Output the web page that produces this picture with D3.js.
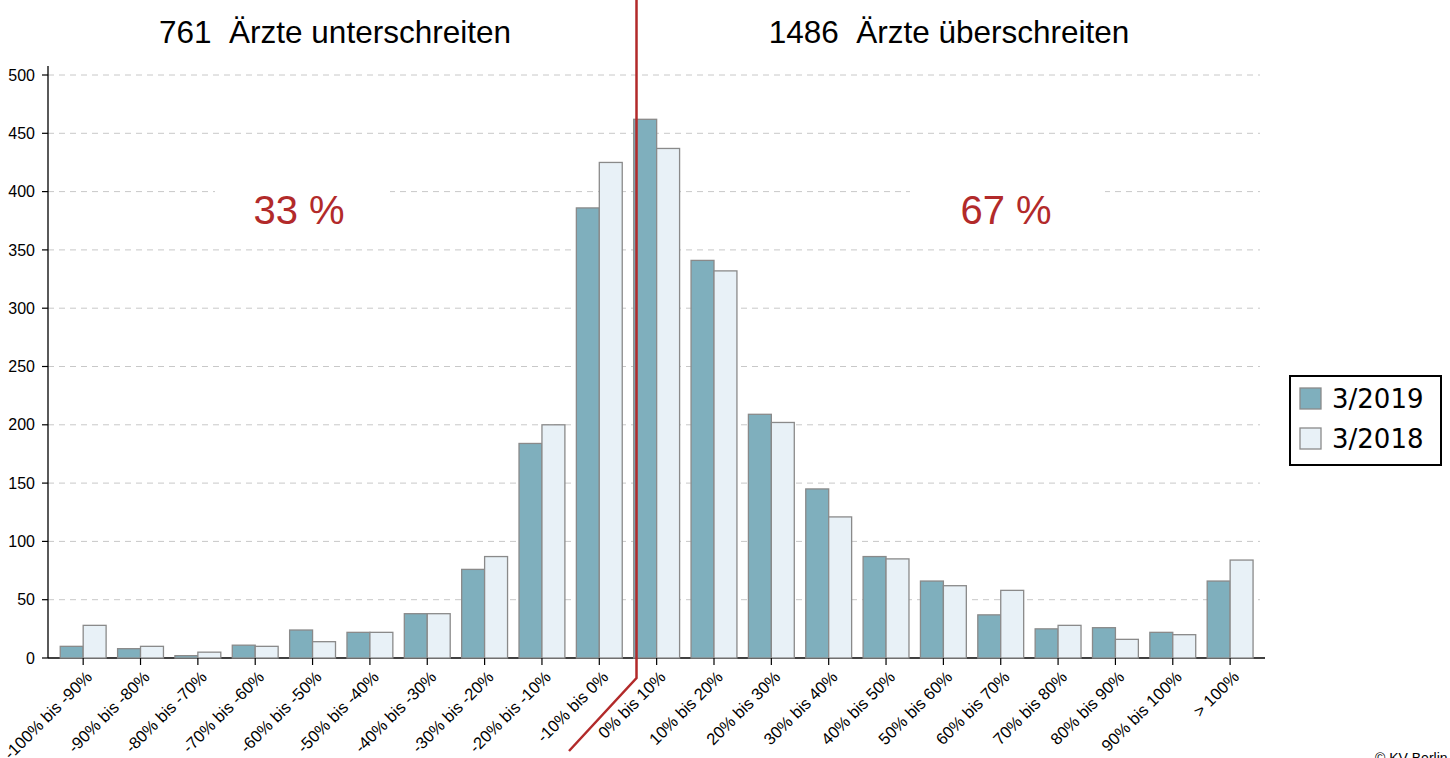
<!DOCTYPE html>
<html>
<head>
<meta charset="utf-8">
<script src="https://cdn.jsdelivr.net/npm/d3@7"></script>
<style>
  body { margin: 0; background: #fff; }
  svg { display: block; font-family: "Liberation Sans", Arial, sans-serif; }
</style>
</head>
<body>
<div id="chart"></div>
<script>
const categories = ['-100% bis -90%', '-90% bis -80%', '-80% bis -70%', '-70% bis -60%', '-60% bis -50%',
  '-50% bis -40%', '-40% bis -30%', '-30% bis -20%', '-20% bis -10%', '-10% bis 0%', '0% bis 10%',
  '10% bis 20%', '20% bis 30%', '30% bis 40%', '40% bis 50%', '50% bis 60%', '60% bis 70%',
  '70% bis 80%', '80% bis 90%', '90% bis 100%', '> 100%'];
const series = ['3/2019', '3/2018'];
const values2019 = [10, 8, 2, 11, 24, 22, 38, 76, 184, 386, 462, 341, 209, 145, 87, 66, 37, 25, 26, 22, 66];
const values2018 = [28, 10, 5, 10, 14, 22, 38, 87, 200, 425, 437, 332, 202, 121, 85, 62, 58, 28, 16, 20, 84];
const yTicks = [0, 50, 100, 150, 200, 250, 300, 350, 400, 450, 500];
const headLeft = '761  Ärzte unterschreiten';
const headRight = '1486  Ärzte überschreiten';
const shareLeft = '33 %';
const shareRight = '67 %';

const width = 1450, height = 758;
const colors = {'3/2019': '#7fafbd', '3/2018': '#e8f1f7'};

const svg = d3.select('#chart').append('svg')
  .attr('width', width).attr('height', height);

const x = d3.scaleBand().domain(categories).range([54.5, 1258.8]).paddingInner(0.2).paddingOuter(0.1);
const xs = d3.scaleBand().domain(series).range([0, x.bandwidth()]);
const y = d3.scaleLinear().domain([0, 500]).range([658, 75]);

// gridlines
svg.append('g').selectAll('line').data(yTicks.filter(d => d > 0)).join('line')
  .attr('x1', 48).attr('x2', 1260)
  .attr('y1', d => y(d)).attr('y2', d => y(d))
  .attr('stroke', '#c8c8c8').attr('stroke-dasharray', '6,5');

// white boxes behind percentage labels
[[215, 390], [910, 1105]].forEach(([a, b]) => {
  svg.append('rect').attr('x', a).attr('y', 182).attr('width', b - a).attr('height', 55).attr('fill', '#fff');
});

// x axis
const xAxisG = svg.append('g').attr('transform', 'translate(0,658)');
xAxisG.append('line').attr('x1', 48).attr('x2', 1265).attr('stroke', '#000').attr('stroke-width', 1.3);

// bars
const groups = svg.append('g').selectAll('g').data(categories).join('g')
  .attr('transform', d => `translate(${x(d)},0)`);
groups.selectAll('rect')
  .data((d, i) => [{s: '3/2019', v: values2019[i]}, {s: '3/2018', v: values2018[i]}])
  .join('rect')
  .attr('x', d => xs(d.s))
  .attr('y', d => y(d.v))
  .attr('width', xs.bandwidth())
  .attr('height', d => y(0) - y(d.v))
  .attr('fill', d => colors[d.s])
  .attr('stroke', '#8a8a8a').attr('stroke-width', 1.3);

// x ticks and labels
const xt = svg.append('g').selectAll('g').data(categories).join('g')
  .attr('transform', d => `translate(${x(d) + x.bandwidth() / 2},658)`);
xt.append('line').attr('y2', 7).attr('stroke', '#000').attr('stroke-width', 1.2);
xt.append('text')
  .attr('transform', 'translate(10,20) rotate(-45)')
  .attr('text-anchor', 'end')
  .attr('font-size', 16.5)
  .attr('fill', '#000')
  .text(d => d);

// y axis
const yAxisG = svg.append('g').attr('transform', 'translate(48,0)');
yAxisG.append('line').attr('y1', 66).attr('y2', 658).attr('stroke', '#000').attr('stroke-width', 1.3);
const yt = yAxisG.selectAll('g').data(yTicks).join('g')
  .attr('transform', d => `translate(0,${y(d)})`);
yt.append('line').attr('x1', -6).attr('stroke', '#000').attr('stroke-width', 1.2);
yt.append('text').attr('x', -13).attr('dy', '0.35em').attr('text-anchor', 'end')
  .attr('font-size', 16).text(d => d);

// red divider
svg.append('polyline')
  .attr('points', '636.5,0 636.5,678 569,751')
  .attr('fill', 'none').attr('stroke', '#b22a2a').attr('stroke-width', 2.5);

// headers
svg.append('text').attr('x', 335).attr('y', 43).attr('text-anchor', 'middle')
  .attr('font-size', 31.5).style('white-space', 'pre').text(headLeft);
svg.append('text').attr('x', 949).attr('y', 43).attr('text-anchor', 'middle')
  .attr('font-size', 31.5).style('white-space', 'pre').text(headRight);

// percentage labels
svg.append('text').attr('x', 299).attr('y', 224).attr('text-anchor', 'middle')
  .attr('font-size', 40).attr('fill', '#b22a2a').text(shareLeft);
svg.append('text').attr('x', 1006).attr('y', 224).attr('text-anchor', 'middle')
  .attr('font-size', 40).attr('fill', '#b22a2a').text(shareRight);

// legend
const lg = svg.append('g');
lg.append('rect').attr('x', 1290).attr('y', 376).attr('width', 151).attr('height', 89)
  .attr('fill', '#fff').attr('stroke', '#000').attr('stroke-width', 2);
const li = lg.selectAll('g').data(series).join('g')
  .attr('transform', (d, i) => `translate(1300,${388 + i * 40})`);
li.append('rect').attr('width', 21).attr('height', 21)
  .attr('fill', d => colors[d]).attr('stroke', '#8a8a8a').attr('stroke-width', 1.3);
li.append('text').attr('x', 32).attr('y', 20)
  .attr('font-family', '"DejaVu Sans", sans-serif').attr('font-size', 26)
  .text(d => d);

// source (cut off at the page edge as in the original)
svg.append('text').attr('x', 1375).attr('y', 763).attr('font-size', 14).text('© KV Berlin');
</script>
</body>
</html>
